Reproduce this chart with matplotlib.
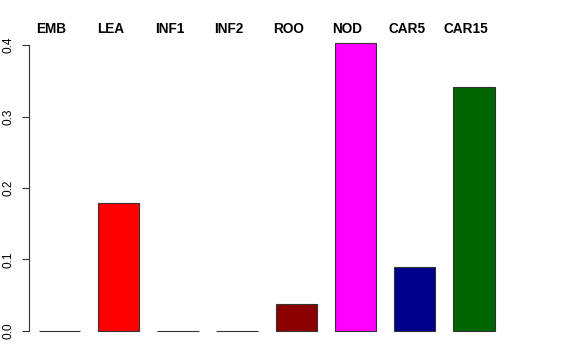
import matplotlib
matplotlib.use("Agg")
import matplotlib.pyplot as plt
import matplotlib.transforms as mtransforms

# tissue categories and their values
tissues = ["EMB", "LEA", "INF1", "INF2", "ROO", "NOD", "CAR5", "CAR15"]
values = [0.0, 0.179, 0.0, 0.0, 0.038, 0.403, 0.0895, 0.341]
colors = ["gray", "#FF0000", "gray", "gray", "#8B0000", "#FF00FF", "#00008B", "#006400"]
yticks = [0.0, 0.1, 0.2, 0.3, 0.4]

plt.rcParams["font.family"] = ["Liberation Sans", "DejaVu Sans"]

W, H = 576, 360
fig = plt.figure(figsize=(W / 100, H / 100), dpi=100)
# axes placed in pixel coordinates: left 29, right 513, top 31, bottom 343
ax = fig.add_axes([29 / W, 1 - 343 / H, (513 - 29) / W, (343 - 31) / H])

x = list(range(len(tissues)))
ax.bar(x, values, width=0.7, color=colors, edgecolor="#333333", linewidth=0.8)

ax.set_xlim(-0.515, 7.66)
ax.set_ylim(-0.0168, 0.4196)

for s in ["top", "right", "bottom"]:
    ax.spines[s].set_visible(False)
ax.spines["left"].set_bounds(0, 0.4)
ax.spines["left"].set_color("#333333")
ax.set_xticks([])
ax.set_yticks(yticks)
ax.set_yticklabels(["%.1f" % t for t in yticks], rotation=90, va="center", fontsize=8.6)
ax.tick_params(axis="y", length=5, width=0.8, pad=5.4, color="#333333")

# category labels above the plot, bold
shift = mtransforms.offset_copy(ax.transData, fig=fig, x=-8 * 0.72, y=0, units="points")
trans = mtransforms.blended_transform_factory(shift, fig.transFigure)
for i, name in enumerate(tissues):
    ax.text(i, 1 - 29 / H, name, transform=trans, ha="center", va="center",
            fontsize=9.8, fontweight="bold")

fig.savefig("out.png", dpi=100)
